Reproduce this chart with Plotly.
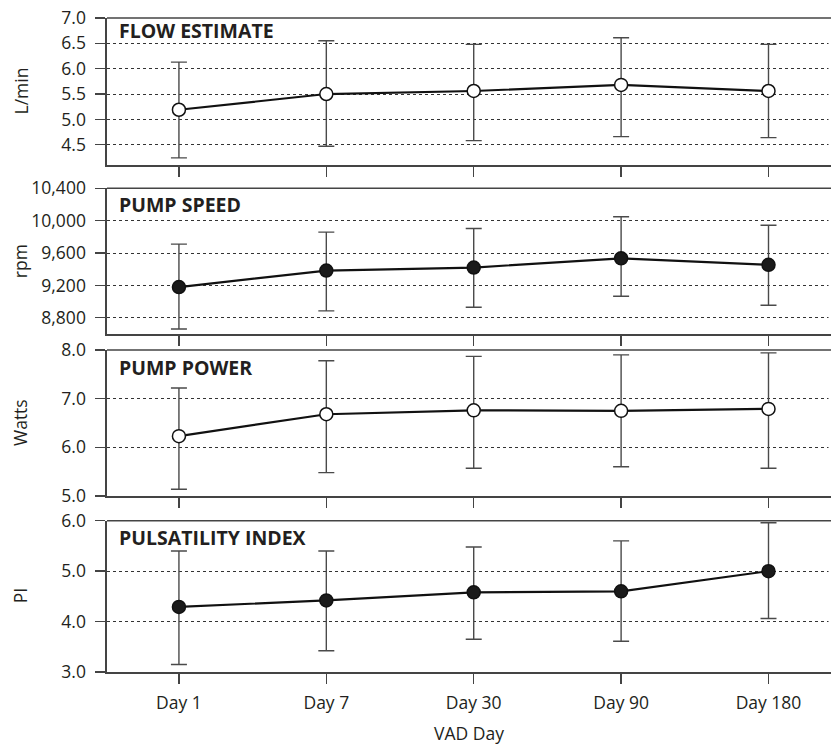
import plotly.graph_objects as go
from plotly.subplots import make_subplots

days = ["Day 1", "Day 7", "Day 30", "Day 90", "Day 180"]

panel_titles = ["FLOW ESTIMATE", "PUMP SPEED", "PUMP POWER", "PULSATILITY INDEX"]
y_titles = ["L/min", "rpm", "Watts", "PI"]

flow_mean = [5.19, 5.50, 5.56, 5.68, 5.56]
flow_upper = [6.13, 6.55, 6.48, 6.61, 6.48]
flow_lower = [4.24, 4.47, 4.58, 4.66, 4.64]

speed_mean = [9180, 9384, 9421, 9535, 9454]
speed_upper = [9710, 9858, 9903, 10049, 9944]
speed_lower = [8661, 8886, 8931, 9066, 8956]

power_mean = [6.23, 6.68, 6.76, 6.75, 6.79]
power_upper = [7.22, 7.78, 7.87, 7.90, 7.94]
power_lower = [5.14, 5.48, 5.57, 5.60, 5.57]

pi_mean = [4.29, 4.42, 4.58, 4.60, 5.00]
pi_upper = [5.40, 5.40, 5.48, 5.60, 5.96]
pi_lower = [3.15, 3.42, 3.65, 3.61, 4.06]

flow_ticks = [4.5, 5.0, 5.5, 6.0, 6.5, 7.0]
speed_ticks = [8800, 9200, 9600, 10000, 10400]
power_ticks = [5.0, 6.0, 7.0, 8.0]
pi_ticks = [3.0, 4.0, 5.0, 6.0]

series = [
    (flow_mean, flow_upper, flow_lower, flow_ticks, [4.1, 7.0], ".1f", True),
    (speed_mean, speed_upper, speed_lower, speed_ticks, [8600, 10400], ",", False),
    (power_mean, power_upper, power_lower, power_ticks, [5.0, 8.0], ".1f", True),
    (pi_mean, pi_upper, pi_lower, pi_ticks, [3.0, 6.0], ".1f", False),
]

W, H = 831, 745
ML, MR, MT, MB = 107, 0, 18, 73
PW = W - ML - MR
PH = H - MT - MB
# panel pixel bounds (top, bottom) in figure px
panel_px = [(18, 165), (188.3, 334), (350, 496), (520.7, 672)]
label_offsets = [12.5, 15.9, 17.5, 16.8]

INK = "#231f20"
AX = "#444444"
FONT = "Open Sans"
TFS = 17.5

fig = make_subplots(rows=4, cols=1, shared_xaxes=False, vertical_spacing=0.02)

for i, (m, up, lo, ticks, rng, fmt, hollow) in enumerate(series):
    r = i + 1
    fig.add_trace(
        go.Scatter(
            x=days,
            y=m,
            mode="lines+markers",
            line=dict(color="#111111", width=2.2),
            marker=dict(
                size=13,
                color="white" if hollow else "#1a1a1a",
                line=dict(color="#111111", width=1.5),
            ),
            error_y=dict(
                type="data",
                symmetric=False,
                array=[u - v for u, v in zip(up, m)],
                arrayminus=[v - l for v, l in zip(m, lo)],
                color="#4a4a4a",
                thickness=1.4,
                width=8,
            ),
            showlegend=False,
            hoverinfo="skip",
        ),
        row=r,
        col=1,
    )
    top, bot = panel_px[i]
    dom = [(MT + PH - bot) / PH, (MT + PH - top) / PH]
    yname = "yaxis" if r == 1 else f"yaxis{r}"
    xname = "xaxis" if r == 1 else f"xaxis{r}"
    fig.layout[yname].update(
        domain=dom,
        range=rng,
        tickvals=ticks,
        tickformat=fmt,
        ticks="outside",
        ticklen=10,
        tickwidth=1.3,
        tickcolor=AX,
        ticklabelstandoff=6,
        showline=True,
        mirror=False,
        linecolor=AX,
        linewidth=1.6,
        showgrid=True,
        gridcolor="#333333",
        griddash="dot",
        gridwidth=1,
        zeroline=False,
        tickfont=dict(family=FONT, size=TFS, color=INK),
        fixedrange=True,
    )
    fig.layout[xname].update(
        range=[-0.488, 4.424],
        type="category",
        ticks="outside",
        ticklen=10,
        tickwidth=1.3,
        tickcolor=AX,
        ticklabelstandoff=4,
        showline=True,
        linecolor=AX,
        linewidth=1.6,
        mirror=False,
        showgrid=False,
        zeroline=False,
        showticklabels=(r == 4),
        tickfont=dict(family=FONT, size=TFS, color=INK),
        anchor="y" if r == 1 else f"y{r}",
        fixedrange=True,
    )
    yref = "y domain" if r == 1 else f"y{r} domain"
    xref = "x domain" if r == 1 else f"x{r} domain"
    # hide the stray vertical edge on the right side of the panel
    fig.add_shape(
        type="line",
        xref=xref,
        yref=yref,
        x0=1,
        x1=1,
        y0=0.02,
        y1=0.98,
        line=dict(color="white", width=5),
        layer="above",
    )
    # top frame line of the panel
    fig.add_shape(
        type="line",
        xref=xref,
        yref=yref,
        x0=0,
        x1=1,
        y0=1,
        y1=1,
        line=dict(color=AX, width=1.6),
        layer="above",
    )
    fig.add_annotation(
        text=f"<b>{panel_titles[i]}</b>",
        xref=xref,
        yref=yref,
        x=10 / PW,
        y=1,
        xanchor="left",
        yanchor="middle",
        yshift=-label_offsets[i],
        showarrow=False,
        font=dict(family=FONT, size=19.5, color=INK),
    )
    fig.add_annotation(
        text=y_titles[i],
        xref="paper",
        yref=yref,
        x=(20 - ML) / PW,
        y=0.5,
        xanchor="center",
        yanchor="middle",
        textangle=-90,
        showarrow=False,
        font=dict(family=FONT, size=TFS, color=INK),
    )

fig.layout["xaxis4"].title = dict(text="VAD Day", font=dict(family=FONT, size=TFS, color=INK), standoff=18)

fig.update_layout(
    width=W,
    height=H,
    margin=dict(l=ML, r=MR, t=MT, b=MB),
    paper_bgcolor="white",
    plot_bgcolor="white",
    font=dict(family=FONT, color=INK),
)

fig.write_html(
    "out.html",
    config={"displayModeBar": False, "staticPlot": True},
    post_script="document.body.style.margin='0';document.body.style.overflow='hidden';",
)
